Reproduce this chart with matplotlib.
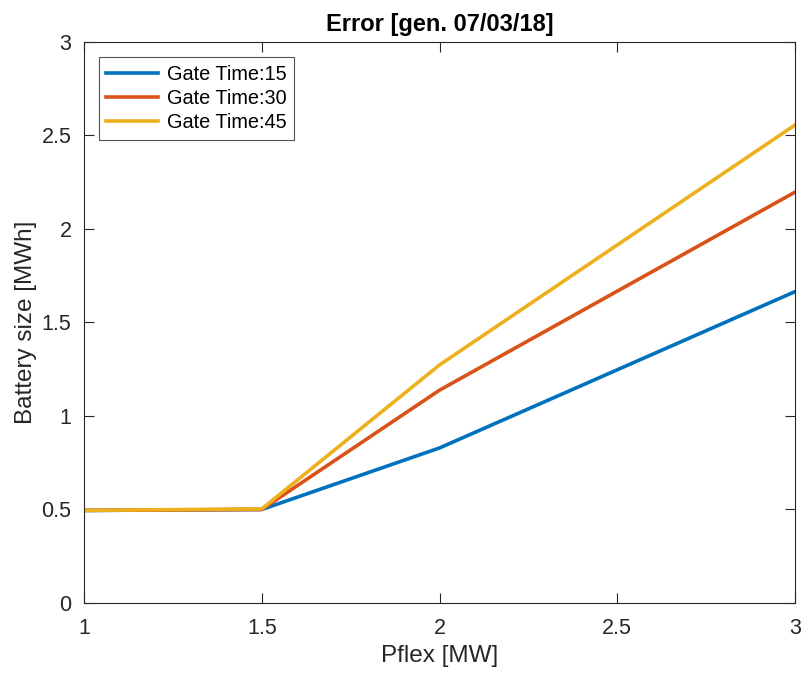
import matplotlib
matplotlib.use("Agg")
import matplotlib.pyplot as plt

plt.rcParams["font.family"] = ["Liberation Sans", "DejaVu Sans"]

# --- data ---
pflex = [1.0, 1.5, 2.0, 3.0]
gate_15 = [0.495, 0.500, 0.829, 1.665]
gate_30 = [0.495, 0.500, 1.138, 2.197]
gate_45 = [0.495, 0.503, 1.273, 2.556]
labels = ["Gate Time:15", "Gate Time:30", "Gate Time:45"]
colors = ["#0072BD", "#D95319", "#EDB120"]  # MATLAB default order

x_ticks = [1, 1.5, 2, 2.5, 3]
x_ticklabels = ["1", "1.5", "2", "2.5", "3"]
y_ticks = [0, 0.5, 1, 1.5, 2, 2.5, 3]
y_ticklabels = ["0", "0.5", "1", "1.5", "2", "2.5", "3"]

AX_COLOR = "#262626"

fig = plt.figure(figsize=(8.04, 6.75), dpi=100)
ax = fig.add_axes([0.1045, 0.1067, 0.8843, 0.8311])

for ys, lab, c in zip([gate_15, gate_30, gate_45], labels, colors):
    ax.plot(pflex, ys, color=c, lw=2.6, label=lab, solid_joinstyle="round")

ax.set_xlim(1, 3)
ax.set_ylim(0, 3)
ax.set_xticks(x_ticks)
ax.set_xticklabels(x_ticklabels)
ax.set_yticks(y_ticks)
ax.set_yticklabels(y_ticklabels)

ax.tick_params(direction="in", length=7, width=0.8, top=True, right=True,
               colors=AX_COLOR, labelsize=15.5)
ax.tick_params(axis="x", pad=11)
ax.tick_params(axis="y", pad=9)
for sp in ax.spines.values():
    sp.set_color(AX_COLOR)
    sp.set_linewidth(0.8)

ax.set_xlabel("Pflex [MW]", fontsize=17.5, color=AX_COLOR, labelpad=4)
ax.set_ylabel("Battery size [MWh]", fontsize=17.5, color=AX_COLOR, labelpad=3)
ax.set_title("Error [gen. 07/03/18]", fontsize=17, weight="bold", color="black", pad=8)

leg = ax.legend(loc="upper left", bbox_to_anchor=(0.021, 0.973), fontsize=14.3,
                frameon=True, fancybox=False, handlelength=2.6, handletextpad=0.45,
                borderpad=0.38, labelspacing=0.26, borderaxespad=0)
leg.get_frame().set_edgecolor(AX_COLOR)
leg.get_frame().set_linewidth(0.8)

fig.savefig("out.png", dpi=100)
